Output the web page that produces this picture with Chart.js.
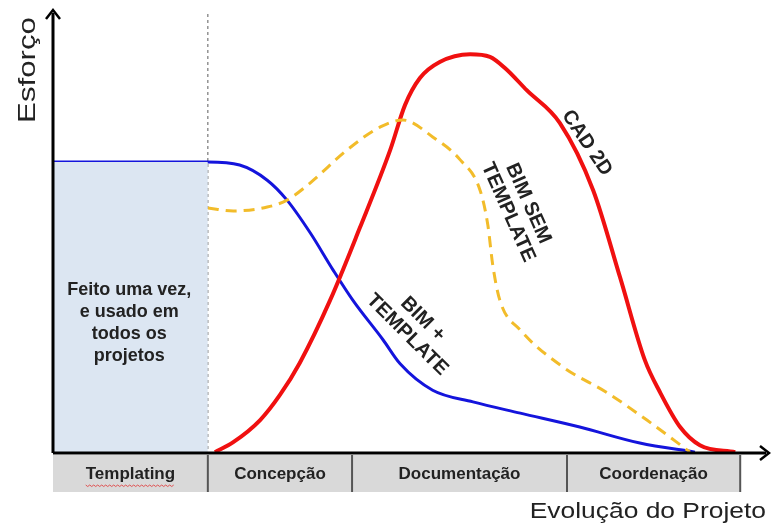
<!DOCTYPE html>
<html>
<head>
<meta charset="utf-8">
<script src="https://cdn.jsdelivr.net/npm/chart.js@4"></script>
<style>
  body { margin: 0; background: #fff; }
  #wrap { width: 771px; height: 527px; }
</style>
</head>
<body>
<div id="wrap"><canvas id="chart-1" width="771" height="527"></canvas></div>
<script>
// project timeline 0..100, effort 0..100
const phases = ["Templating", "Concepção", "Documentação", "Coordenação"];
const phaseEdges = [0, 21.9, 42.3, 72.7, 97.2];

const bimTemplate = [
  [0, 67.2], [21.9, 67.2], [26.4, 66.5], [30.3, 63.0], [33.1, 58.4], [36.4, 50.8],
  [39.6, 42.3], [42.4, 35.3], [46.7, 26.1], [49.1, 20.6], [53.7, 14.5], [59.4, 11.8],
  [66.1, 9.2], [74.5, 6.0], [83.0, 2.3], [90.8, 0.2]
];
const bimSemTemplate = [
  [21.9, 56.6], [25.5, 55.9], [30.3, 56.8], [33.1, 58.4], [36.4, 62.4], [41.6, 70.0],
  [46.3, 75.3], [49.5, 76.9], [53.7, 73.0], [57.6, 67.7], [60.4, 60.7], [61.5, 52.7],
  [62.2, 43.4], [63.2, 35.3], [66.1, 28.4], [72.1, 19.9], [78.4, 13.9], [84.0, 7.6],
  [90.1, 0.2]
];
const cad2d = [
  [22.9, 0.2], [25.5, 2.5], [29.3, 7.6], [32.1, 13.4], [34.9, 20.8], [39.2, 35.3],
  [43.4, 52.0], [47.7, 70.0], [49.8, 80.4], [51.9, 86.6], [54.7, 90.3], [59.0, 92.1],
  [61.8, 91.5], [64.0, 88.8], [67.0, 83.8], [71.7, 76.2], [76.4, 60.7], [80.2, 40.6],
  [83.7, 21.5], [85.9, 13.9], [88.7, 6.0], [91.5, 1.8], [96.5, 0.2]
];
const templatingBlock = [[0, 67.2], [21.9, 67.2]];

const toPts = (arr) => arr.map(p => ({ x: p[0], y: p[1] }));

const FONT = "'Liberation Sans', Arial, sans-serif";

const extras = {
  id: "extras",
  beforeDatasetsDraw(chart) {
    const { ctx, scales: { x, y } } = chart;
    // dotted line at end of templating
    ctx.save();
    ctx.strokeStyle = "#777";
    ctx.lineWidth = 1.2;
    ctx.setLineDash([3, 3]);
    ctx.beginPath();
    ctx.moveTo(x.getPixelForValue(phaseEdges[1]), 14);
    ctx.lineTo(x.getPixelForValue(phaseEdges[1]), y.getPixelForValue(0));
    ctx.stroke();
    ctx.restore();
  },
  afterDatasetsDraw(chart) {
    const { ctx, scales: { x, y } } = chart;
    const x0 = x.getPixelForValue(0), y0 = y.getPixelForValue(0);

    // phase band
    const top = y0 + 2, bot = y0 + 39;
    ctx.save();
    ctx.fillStyle = "#d9d9d9";
    ctx.fillRect(x0, top, x.getPixelForValue(phaseEdges[4]) - x0, bot - top);
    ctx.strokeStyle = "#555";
    ctx.lineWidth = 2;
    phaseEdges.slice(1).forEach(v => {
      const px = x.getPixelForValue(v);
      ctx.beginPath(); ctx.moveTo(px, top); ctx.lineTo(px, bot); ctx.stroke();
    });
    ctx.fillStyle = "#222";
    ctx.font = "bold 17px " + FONT;
    ctx.textAlign = "center";
    ctx.textBaseline = "middle";
    phases.forEach((p, i) => {
      const cx = (x.getPixelForValue(phaseEdges[i]) + x.getPixelForValue(phaseEdges[i + 1])) / 2;
      ctx.fillText(p, cx, (top + bot) / 2 + 1);
    });
    // spellcheck squiggle under Templating
    const tw = ctx.measureText(phases[0]).width;
    const tcx = (x.getPixelForValue(phaseEdges[0]) + x.getPixelForValue(phaseEdges[1])) / 2;
    ctx.strokeStyle = "#e05050";
    ctx.lineWidth = 1;
    ctx.beginPath();
    for (let k = 0; k <= tw; k += 2) {
      const yy = (top + bot) / 2 + 12 + ((k / 2) % 2 ? 1 : -0.5);
      if (k === 0) ctx.moveTo(tcx - tw / 2 + k, yy); else ctx.lineTo(tcx - tw / 2 + k, yy);
    }
    ctx.stroke();

    // axes with arrows
    ctx.strokeStyle = "#000";
    ctx.fillStyle = "#000";
    ctx.lineWidth = 3;
    ctx.beginPath();
    ctx.moveTo(x0, y0); ctx.lineTo(x0, 13);
    ctx.moveTo(x0, y0); ctx.lineTo(766, y0);
    ctx.stroke();
    ctx.lineWidth = 2.5;
    ctx.beginPath();
    ctx.moveTo(x0 - 7, 19); ctx.lineTo(x0, 10); ctx.lineTo(x0 + 7, 19);
    ctx.moveTo(760, y0 - 7); ctx.lineTo(769, y0); ctx.lineTo(760, y0 + 7);
    ctx.stroke();

    // axis titles (slightly stretched, as in the source image)
    ctx.fillStyle = "#222";
    ctx.font = "22px " + FONT;
    ctx.textBaseline = "alphabetic";
    ctx.save();
    ctx.translate(766, 518);
    ctx.scale(1.2, 1);
    ctx.textAlign = "right";
    ctx.fillText("Evolução do Projeto", 0, 0);
    ctx.restore();
    ctx.save();
    ctx.font = "24px " + FONT;
    ctx.translate(35, 70);
    ctx.rotate(-Math.PI / 2);
    ctx.scale(1.3, 1);
    ctx.textAlign = "center";
    ctx.fillText("Esforço", 0, 0);
    ctx.restore();

    // annotations
    ctx.font = "bold 18px " + FONT;
    ctx.textAlign = "center";
    ctx.textBaseline = "middle";
    ["Feito uma vez,", "e usado em", "todos os", "projetos"].forEach((t, i) => {
      ctx.fillText(t, x.getPixelForValue(10.8), y.getPixelForValue(37.6) + i * 22);
    });
    ctx.font = "bold 20px " + FONT;
    const rotLabel = (lines, vx, vy, deg) => {
      ctx.save();
      ctx.translate(x.getPixelForValue(vx), y.getPixelForValue(vy));
      ctx.rotate(deg * Math.PI / 180);
      lines.forEach((t, i) => ctx.fillText(t, 0, (i - (lines.length - 1) / 2) * 22));
      ctx.restore();
    };
    rotLabel(["BIM +", "TEMPLATE"], 51.2, 29.1, 45);
    rotLabel(["BIM SEM", "TEMPLATE"], 65.8, 56.6, 66);
    rotLabel(["CAD 2D"], 75.5, 71.6, 56);
    ctx.restore();
  }
};

new Chart(document.getElementById("chart-1").getContext("2d"), {
  type: "scatter",
  data: {
    datasets: [
      {
        label: "Templating",
        data: toPts(templatingBlock),
        showLine: true,
        borderWidth: 0,
        pointRadius: 0,
        fill: "origin",
        backgroundColor: "#dce6f2",
        borderColor: "rgba(0,0,0,0)",
      },
      {
        label: "BIM sem template",
        data: toPts(bimSemTemplate),
        showLine: true,
        borderColor: "#f2bc2a",
        borderWidth: 3,
        borderDash: [11, 7],
        pointRadius: 0,
        cubicInterpolationMode: "monotone",
      },
      {
        label: "CAD 2D",
        data: toPts(cad2d),
        showLine: true,
        borderColor: "#f01010",
        borderWidth: 4,
        pointRadius: 0,
        cubicInterpolationMode: "monotone",
      },
      {
        label: "BIM + template",
        data: toPts(bimTemplate),
        showLine: true,
        borderColor: "#1414dc",
        borderWidth: 3,
        pointRadius: 0,
        cubicInterpolationMode: "monotone",
      },
    ],
  },
  options: {
    responsive: false,
    animation: false,
    clip: false,
    layout: { padding: { left: 53, right: 11, top: 20, bottom: 74 } },
    scales: {
      x: { type: "linear", min: 0, max: 100, display: false },
      y: { min: 0, max: 100, display: false },
    },
    plugins: { legend: { display: false }, tooltip: { enabled: false } },
  },
  plugins: [extras],
});
</script>
</body>
</html>
